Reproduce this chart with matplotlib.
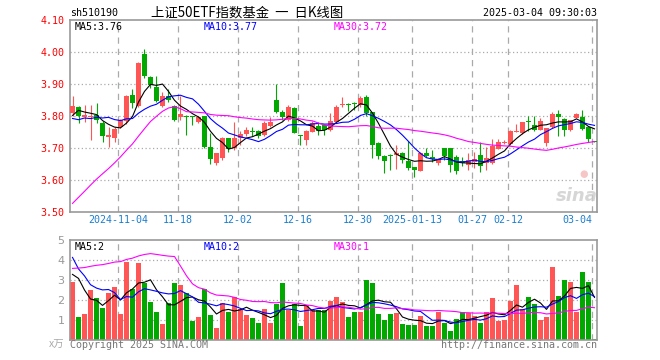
import numpy as np
import pandas as pd
import matplotlib
matplotlib.use('Agg')
import matplotlib.pyplot as plt
from matplotlib.transforms import blended_transform_factory

# daily candles 2024-10-23 .. 2025-03-04 (88 sessions)
opens = [3.809, 3.829, 3.799, 3.797, 3.803, 3.780, 3.736, 3.733, 3.766, 3.785,
         3.867, 3.833, 3.995, 3.924, 3.892, 3.833, 3.864, 3.832, 3.797, 3.801,
         3.799, 3.783, 3.800, 3.704, 3.655, 3.669, 3.731, 3.700, 3.731, 3.744,
         3.755, 3.754, 3.742, 3.771, 3.851, 3.815, 3.789, 3.826, 3.741, 3.726,
         3.752, 3.771, 3.773, 3.757, 3.783, 3.835, 3.837, 3.840, 3.835, 3.861,
         3.812, 3.718, 3.676, 3.679, 3.678, 3.686, 3.660, 3.640, 3.630, 3.686,
         3.674, 3.653, 3.700, 3.700, 3.674, 3.660, 3.648, 3.656, 3.679, 3.655,
         3.654, 3.699, 3.717, 3.712, 3.752, 3.747, 3.784, 3.773, 3.758, 3.717,
         3.766, 3.808, 3.792, 3.757, 3.796, 3.799, 3.765, 3.722]
highs = [3.864, 3.832, 3.835, 3.835, 3.843, 3.785, 3.766, 3.766, 3.792, 3.866,
         3.884, 3.970, 4.010, 3.927, 3.927, 3.877, 3.884, 3.835, 3.864, 3.803,
         3.801, 3.800, 3.801, 3.747, 3.686, 3.735, 3.733, 3.783, 3.755, 3.768,
         3.768, 3.756, 3.785, 3.799, 3.901, 3.820, 3.835, 3.828, 3.742, 3.757,
         3.786, 3.783, 3.775, 3.811, 3.835, 3.859, 3.841, 3.846, 3.864, 3.866,
         3.815, 3.720, 3.678, 3.682, 3.710, 3.688, 3.724, 3.642, 3.688, 3.700,
         3.695, 3.670, 3.702, 3.702, 3.680, 3.672, 3.685, 3.690, 3.721, 3.705,
         3.730, 3.730, 3.727, 3.756, 3.777, 3.783, 3.800, 3.800, 3.796, 3.765,
         3.815, 3.821, 3.794, 3.790, 3.810, 3.821, 3.767, 3.723]
lows = [3.800, 3.780, 3.783, 3.726, 3.780, 3.721, 3.705, 3.721, 3.763, 3.775,
        3.825, 3.830, 3.920, 3.890, 3.846, 3.828, 3.846, 3.785, 3.790, 3.742,
        3.773, 3.780, 3.700, 3.651, 3.648, 3.665, 3.690, 3.695, 3.710, 3.740,
        3.739, 3.731, 3.740, 3.768, 3.810, 3.789, 3.785, 3.747, 3.710, 3.710,
        3.750, 3.742, 3.742, 3.755, 3.780, 3.830, 3.816, 3.820, 3.830, 3.800,
        3.669, 3.667, 3.624, 3.632, 3.634, 3.653, 3.632, 3.609, 3.628, 3.674,
        3.658, 3.648, 3.664, 3.627, 3.620, 3.645, 3.632, 3.640, 3.627, 3.632,
        3.650, 3.697, 3.715, 3.710, 3.750, 3.745, 3.753, 3.755, 3.756, 3.707,
        3.764, 3.740, 3.739, 3.755, 3.794, 3.757, 3.720, 3.719]
closes = [3.833, 3.800, 3.804, 3.801, 3.789, 3.740, 3.741, 3.760, 3.789, 3.864,
          3.843, 3.966, 3.927, 3.898, 3.849, 3.864, 3.851, 3.789, 3.807, 3.797,
          3.797, 3.799, 3.705, 3.668, 3.686, 3.731, 3.697, 3.731, 3.745, 3.757,
          3.751, 3.738, 3.778, 3.783, 3.815, 3.799, 3.828, 3.749, 3.737, 3.755,
          3.778, 3.755, 3.757, 3.786, 3.830, 3.838, 3.835, 3.837, 3.856, 3.811,
          3.710, 3.676, 3.660, 3.677, 3.684, 3.664, 3.640, 3.632, 3.686, 3.676,
          3.667, 3.665, 3.676, 3.648, 3.629, 3.655, 3.662, 3.668, 3.644, 3.669,
          3.706, 3.720, 3.720, 3.753, 3.754, 3.781, 3.781, 3.758, 3.786, 3.762,
          3.808, 3.799, 3.757, 3.788, 3.808, 3.760, 3.728, 3.720]
# volume, x 10k lots
vols = [2.88, 1.15, 1.30, 2.50, 2.10, 1.60, 2.35, 2.65, 1.30, 3.90,
        2.55, 3.85, 2.85, 1.90, 1.40, 0.80, 1.85, 2.85, 2.75, 2.35,
        0.95, 1.15, 2.55, 1.25, 0.60, 1.85, 1.40, 2.15, 1.55, 1.25,
        1.10, 0.85, 1.55, 0.85, 1.80, 2.85, 1.50, 1.80, 0.70, 1.75,
        1.50, 1.50, 1.50, 1.95, 2.15, 1.90, 1.15, 1.40, 1.40, 3.00,
        2.85, 1.30, 1.00, 1.30, 1.35, 0.80, 0.75, 0.75, 1.20, 0.70,
        0.70, 1.40, 0.85, 0.45, 1.05, 1.40, 1.35, 1.20, 0.85, 1.40,
        2.10, 0.95, 1.00, 1.95, 2.75, 1.55, 2.15, 1.80, 1.00, 1.15,
        3.65, 2.20, 3.00, 2.90, 1.40, 3.40, 2.90, 0.05]

# 29 sessions before the window (off chart, only feed the moving averages)
prev_closes = [3.23, 3.24, 3.22, 3.23, 3.24, 3.25, 3.23, 3.22, 3.24, 3.25,
               3.24, 3.23, 3.22, 3.36, 3.40, 3.54, 3.67, 3.99, 4.08, 3.82,
               3.84, 3.75, 3.82, 3.75, 3.76, 3.72, 3.83, 3.82, 3.81]
prev_vols = [0.60, 0.60, 0.60, 0.60, 0.60, 0.60, 0.60, 0.60, 0.60, 0.60,
             0.60, 0.60, 0.60, 2.60, 2.20, 3.00, 3.50, 17.0, 17.0, 13.0,
             6.90, 4.80, 6.90, 3.80, 2.50, 2.15, 4.20, 4.75, 2.42]

tick_pos = [8, 18, 28, 38, 48, 57, 67, 73, 87]
tick_labels = ['2024-11-04', '11-18', '12-02', '12-16', '12-30',
               '2025-01-13', '01-27', '02-12', '03-04']

RED = '#ff5555'
GREEN = '#00a800'
GRID = '#aaaaaa'
MONO = 'DejaVu Sans Mono'

W, H = 660, 360
fig = plt.figure(figsize=(6.6, 3.6), dpi=100)


def box(x0, y0, x1, y1):
    return [x0 / W, 1 - y1 / H, (x1 - x0) / W, (y1 - y0) / H]


def ftext(x, y, s, **kw):
    fig.text(x / W, 1 - y / H, s, **kw)


ax = fig.add_axes(box(70, 20.3, 597, 212.3))
axv = fig.add_axes(box(70, 240, 597, 340))

o = np.array(opens)
hi = np.array(highs)
lo = np.array(lows)
c = np.array(closes)
v = np.array(vols)
idx = np.arange(len(c))
col = np.where(c >= o, RED, GREEN)

n0 = len(prev_closes)
call = pd.Series(prev_closes + closes)
vall = pd.Series(prev_vols + vols)

xl = (-0.417, 87.42)
for a in (ax, axv):
    a.set_xlim(*xl)
    for s in a.spines.values():
        s.set_color('#999999')
        s.set_linewidth(1.2)
    a.set_xticks([])
    a.tick_params(axis='y', length=0, pad=4)
    for p in tick_pos:
        a.axvline(p - 0.417, color=GRID, lw=0.9, ls=(0, (5, 4)), zorder=0)

# price panel
ax.set_ylim(3.50, 4.10)
for yv in [3.6, 3.7, 3.8, 3.9, 4.0]:
    ax.axhline(yv, color=GRID, lw=0.9, ls=(0, (1, 2)), zorder=0)
ax.vlines(idx, lo, hi, colors=col, lw=0.8, zorder=2)
body = np.maximum(np.abs(c - o), 0.0032)
ax.bar(idx, body, bottom=np.minimum(o, c), width=0.83, color=col,
       linewidth=0, zorder=3)
for n, clr in [(5, 'black'), (10, '#0000ff'), (30, '#ff00ff')]:
    ma = call.rolling(n).mean().to_numpy()[n0:]
    ax.plot(idx, ma, color=clr, lw=0.8, zorder=4)
ax.set_yticks([3.5, 3.6, 3.7, 3.8, 3.9, 4.0, 4.1])
ax.set_yticklabels(['3.50', '3.60', '3.70', '3.80', '3.90', '4.00', '4.10'],
                   color='red', fontsize=7.2, family=MONO)

# volume panel
axv.set_ylim(0, 5)
for yv in [1, 2, 3, 4]:
    axv.axhline(yv, color=GRID, lw=0.9, ls=(0, (1, 2)), zorder=0)
axv.bar(idx, v, width=0.83, color=col, linewidth=0, zorder=2)
for n, clr in [(5, 'black'), (10, '#0000ff'), (30, '#ff00ff')]:
    ma = vall.rolling(n).mean().to_numpy()[n0:]
    axv.plot(idx, ma, color=clr, lw=0.8, zorder=4)
axv.set_yticks([1, 2, 3, 4, 5])
axv.set_yticklabels(['1', '2', '3', '4', '5'], color='#999999',
                    fontsize=8, family='DejaVu Sans')

# date labels
tr = blended_transform_factory(ax.transData, ax.transAxes)
for p, lab in zip(tick_pos, tick_labels):
    ha = 'right' if p == tick_pos[-1] else 'center'
    ax.text(p - 0.417, -0.04, lab, transform=tr, ha=ha, va='center',
            color='#1a7fd0', fontsize=7.2, family=MONO)

# legends inside panels
ftext(75, 27, 'MA5:3.76', color='black', fontsize=7.2, family=MONO, va='center')
ftext(204, 27, 'MA10:3.77', color='#0000ff', fontsize=7.2, family=MONO, va='center')
ftext(334, 27, 'MA30:3.72', color='#ff00ff', fontsize=7.2, family=MONO, va='center')
ftext(75, 247, 'MA5:2', color='black', fontsize=7.2, family=MONO, va='center')
ftext(204, 247, 'MA10:2', color='#0000ff', fontsize=7.2, family=MONO, va='center')
ftext(334, 247, 'MA30:1', color='#ff00ff', fontsize=7.2, family=MONO, va='center')

# header
ftext(70, 12.5, 'sh510190', color='black', fontsize=7.2, family=MONO, va='center')
ftext(151, 12.5, '上证50ETF指数基金  一  日K线图', color='black', fontsize=9.6,
      family=['Noto Sans CJK SC', 'DejaVu Sans'], va='center')
ftext(597, 12.5, '2025-03-04 09:30:03', color='black', fontsize=7.2,
      family=MONO, va='center', ha='right')

# footer
ftext(64, 345, 'x万', color='#aaaaaa', fontsize=7.5, ha='right', va='center',
      family=['Noto Sans CJK SC', 'DejaVu Sans'])
ftext(70, 345, 'Copyright 2025 SINA.COM', color='#777777', fontsize=7.2,
      family=MONO, va='center')
ftext(597, 345, 'http://finance.sina.com.cn', color='#777777', fontsize=7.2,
      family=MONO, va='center', ha='right')

# watermark
ftext(584, 174, '●', color='#f4b8b8', fontsize=7, ha='center', va='center',
      family='DejaVu Sans', alpha=0.8)
ftext(577, 196, 'sina', color='#cccccc', fontsize=13, fontweight='bold',
      fontstyle='italic', ha='center', va='center', alpha=0.8)

fig.savefig('out.png', dpi=100)
